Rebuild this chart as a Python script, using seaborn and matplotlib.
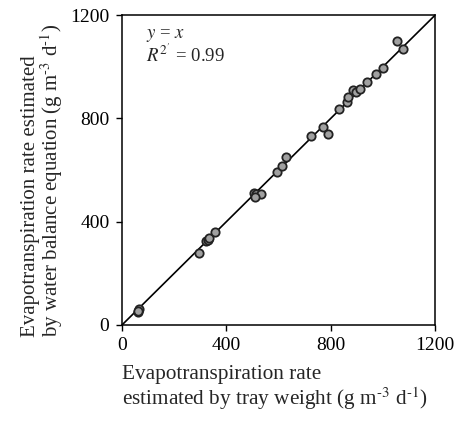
import seaborn as sns
import matplotlib.pyplot as plt
import pandas as pd

# tray weight estimate (x) vs water balance estimate (y), g m-3 d-1
tray = [60, 65, 62, 297, 323, 329, 335, 357, 505, 515, 534, 509, 595, 613, 630,
        726, 771, 790, 830, 864, 867, 886, 897, 912, 940, 972, 1001, 1053, 1078]
balance = [52, 61, 56, 277, 325, 331, 335, 359, 510, 507, 506, 497, 591, 615, 649,
           733, 768, 738, 835, 862, 884, 910, 903, 914, 939, 970, 996, 1099, 1068]
ticks = [0, 400, 800, 1200]

sns.set_style("ticks")
plt.rcParams['font.family'] = ['Liberation Serif', 'DejaVu Serif']
plt.rcParams['mathtext.fontset'] = 'stix'

df = pd.DataFrame({"tray": tray, "balance": balance})

fig = plt.figure(figsize=(4.62, 4.24), dpi=100)
ax = fig.add_axes([0.264, 0.2335, 0.678, 0.731])

ax.plot([0, 1200], [0, 1200], color="black", lw=1.2, zorder=1)
sns.scatterplot(data=df, x="tray", y="balance", ax=ax, s=36, color="#a0a0a0",
                edgecolor="#222222", linewidth=1.3, zorder=2)

ax.set_xlim(0, 1200)
ax.set_ylim(0, 1200)
ax.set_xticks(ticks)
ax.set_yticks(ticks)
ax.tick_params(direction="out", length=4, width=1, labelsize=14, colors="black", pad=5)
for s in ax.spines.values():
    s.set_visible(True)
    s.set_linewidth(1.1)
    s.set_color("black")

ax.text(92, 1110, "$y$ = $x$", fontsize=13.5, va="baseline")
ax.text(92, 1019, "$R^{2'}$ = 0.99", fontsize=13.5, va="baseline")

ax.set_xlabel("Evapotranspiration rate\nestimated by tray weight (g m$^{\\text{-}3}$ d$^{\\text{-}1}$)",
              fontsize=15.3, loc="left", linespacing=1.03)
ax.xaxis.set_label_coords(0.0, -0.13)
ax.set_ylabel("Evapotranspiration rate estimated\nby water balance equation (g m$^{\\text{-}3}$ d$^{\\text{-}1}$)",
              fontsize=15, loc="bottom", linespacing=0.92)
ax.yaxis.set_label_coords(-0.183, -0.04)

fig.savefig("out.png", dpi=100)
